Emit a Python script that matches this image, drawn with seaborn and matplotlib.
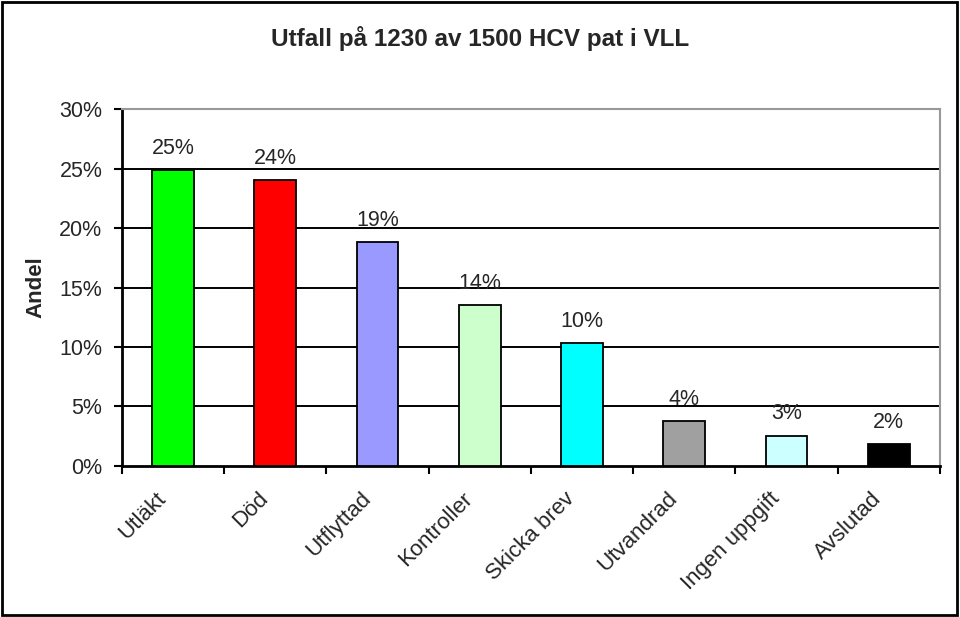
import matplotlib
matplotlib.use("Agg")
import matplotlib.pyplot as plt
import seaborn as sns
import pandas as pd
from matplotlib.patches import Rectangle
from matplotlib.ticker import PercentFormatter, FixedLocator

categories = ["Utläkt", "Död", "Utflyttad", "Kontroller", "Skicka brev",
              "Utvandrad", "Ingen uppgift", "Avslutad"]
values = [24.9, 24.05, 18.8, 13.5, 10.35, 3.8, 2.55, 1.85]
labels = ["25%", "24%", "19%", "14%", "10%", "4%", "3%", "2%"]
colors = ["#00FF00", "#FF0000", "#9999FF", "#CCFFCC", "#00FFFF",
          "#A0A0A0", "#CCFFFF", "#000000"]
yticks = [0, 5, 10, 15, 20, 25, 30]
title = "Utfall på 1230 av 1500 HCV pat i VLL"
ylabel = "Andel"

sns.set_theme(style="white")
plt.rcParams["font.family"] = ["Liberation Sans", "DejaVu Sans"]

df = pd.DataFrame({"cat": categories, "val": values})

fig = plt.figure(figsize=(9.6, 6.17), dpi=100)
ax = fig.add_axes([0.127, 0.245, 0.852, 0.578])

sns.barplot(data=df, x="cat", y="val", hue="cat", palette=colors,
            legend=False, width=0.41, edgecolor="black", linewidth=1.3,
            saturation=1, ax=ax, zorder=3)

ax.set_xlim(-0.5, len(categories) - 0.5)
ax.set_ylim(0, 30)
ax.set_yticks(yticks)
ax.yaxis.set_major_formatter(PercentFormatter(decimals=0))
ax.tick_params(axis="y", labelsize=15.5, length=6, width=1.5, color="black",
               direction="out", left=True, pad=8)

# x tick labels placed slightly left of the category centres (as in Excel)
ax.set_xticks([i - 0.17 for i in range(len(categories))])
ax.set_xticklabels(categories, rotation=45, ha="right",
                   rotation_mode="anchor", fontsize=16)
ax.xaxis.set_minor_locator(FixedLocator([i - 0.5 for i in range(len(categories) + 1)]))
ax.tick_params(axis="x", which="major", length=0, pad=16)
ax.tick_params(axis="x", which="minor", length=6, width=1.5, color="black",
               direction="out", bottom=True)

for y in yticks[1:-1]:
    ax.axhline(y, color="black", linewidth=1.4, zorder=1)

for side in ["left", "bottom"]:
    ax.spines[side].set_color("black")
    ax.spines[side].set_linewidth(2)
for side in ["top", "right"]:
    ax.spines[side].set_color("#999999")
    ax.spines[side].set_linewidth(1.5)

for i, (v, lab) in enumerate(zip(values, labels)):
    ax.annotate(lab, (i, v), xytext=(0, 8), textcoords="offset points",
                ha="center", va="bottom", fontsize=15.5, zorder=4)

ax.set_xlabel("")
ax.set_ylabel(ylabel, fontsize=16, fontweight="bold", labelpad=9)

fig.text(0.5, 0.938, title, ha="center", va="center", fontsize=17.5,
         fontweight="bold")

fig.patches.append(Rectangle((0.002, 0.004), 0.995, 0.992,
                             transform=fig.transFigure, fill=False,
                             edgecolor="black", linewidth=2))

fig.savefig("out.png", dpi=100)
